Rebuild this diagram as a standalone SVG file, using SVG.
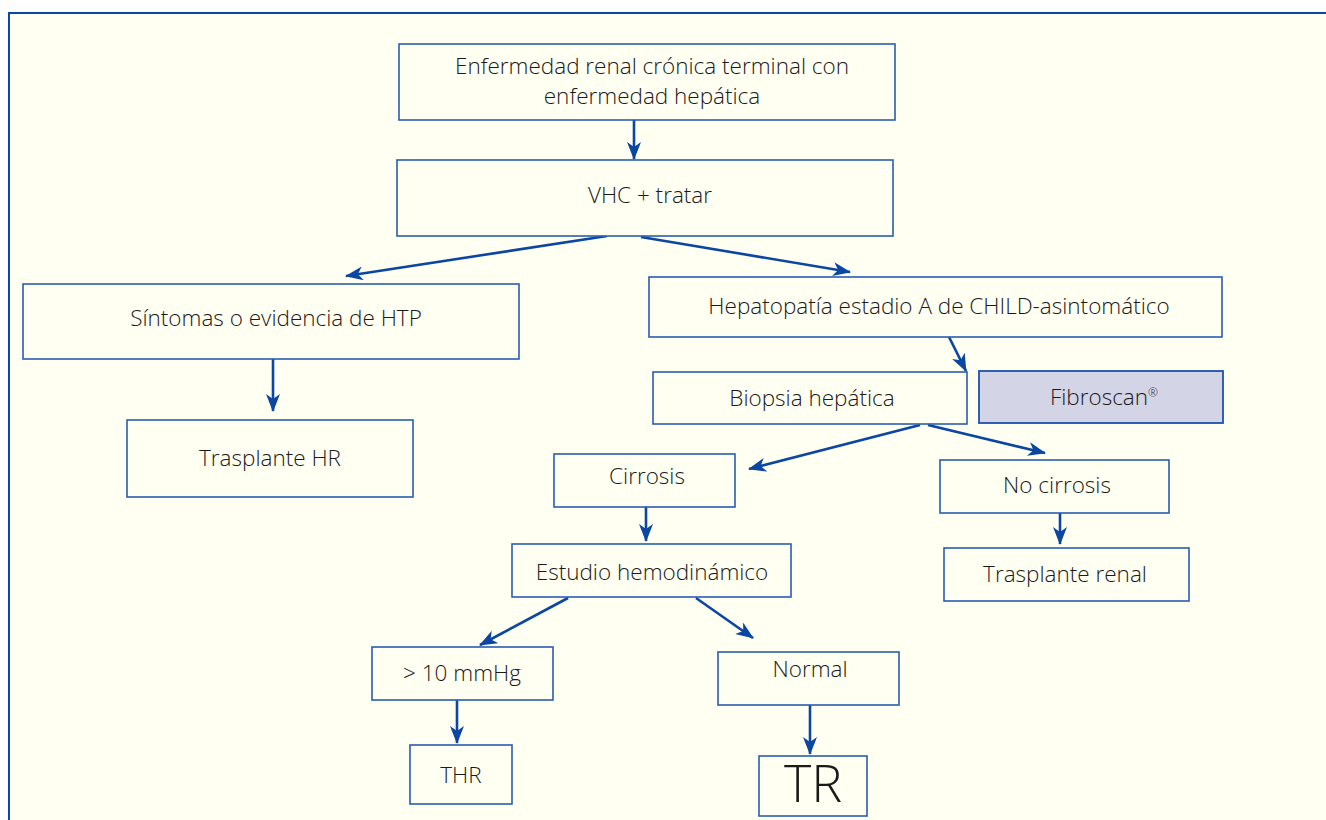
<svg xmlns="http://www.w3.org/2000/svg" width="1326" height="820" viewBox="0 0 1326 820">
<style>
.box{fill:#fffff2;stroke:#2a5db3;stroke-width:1.6}
.fib{fill:#d3d4e6;stroke:#1d50ad;stroke-width:1.8}
.t{font-family:"Open Sans","Noto Sans",sans-serif;font-size:22.5px;font-weight:300;fill:#1a1a1a;text-anchor:middle}
.big{font-size:52px}
.c{fill:none;stroke:#0b46a3;stroke-width:2.6}
</style>
<defs>
<marker id="ah" viewBox="0 0 18 14" refX="17" refY="7" markerWidth="18" markerHeight="14" markerUnits="userSpaceOnUse" orient="auto">
<path d="M0,0 L18,7 L0,14 L5,7 Z" fill="#0b46a3"/>
</marker>
</defs>
<rect x="0" y="0" width="1326" height="820" fill="#ffffff"/>
<rect x="9" y="13" width="1330" height="820" fill="#fffff2" stroke="#0b46a8" stroke-width="2"/>

<g id="connectors">
<line class="c" x1="634" y1="120" x2="634" y2="159" marker-end="url(#ah)"/>
<line class="c" x1="607" y1="236" x2="346" y2="276" marker-end="url(#ah)"/>
<line class="c" x1="641" y1="237" x2="850" y2="272" marker-end="url(#ah)"/>
<line class="c" x1="273" y1="359" x2="273" y2="411" marker-end="url(#ah)"/>
<line class="c" x1="949" y1="337" x2="966" y2="371" marker-end="url(#ah)"/>
<line class="c" x1="920" y1="425" x2="749" y2="469" marker-end="url(#ah)"/>
<line class="c" x1="928" y1="425" x2="1045" y2="453" marker-end="url(#ah)"/>
<line class="c" x1="646" y1="507" x2="646" y2="541" marker-end="url(#ah)"/>
<line class="c" x1="1060" y1="513" x2="1060" y2="544" marker-end="url(#ah)"/>
<line class="c" x1="568" y1="598" x2="480" y2="645" marker-end="url(#ah)"/>
<line class="c" x1="696" y1="598" x2="753" y2="638" marker-end="url(#ah)"/>
<line class="c" x1="457" y1="700" x2="457" y2="743" marker-end="url(#ah)"/>
<line class="c" x1="810" y1="705" x2="810" y2="754" marker-end="url(#ah)"/>
</g>

<g id="n1"><rect class="box" x="399" y="44" width="496" height="76"/>
<text class="t" x="652" y="74">Enfermedad renal crónica terminal con</text>
<text class="t" x="652" y="104">enfermedad hepática</text></g>
<g id="n2"><rect class="box" x="397" y="160" width="496" height="76"/>
<text class="t" x="650" y="203">VHC + tratar</text></g>
<g id="n3"><rect class="box" x="23" y="284" width="496" height="75"/>
<text class="t" x="276" y="326">Síntomas o evidencia de HTP</text></g>
<g id="n4"><rect class="box" x="127" y="420" width="286" height="77"/>
<text class="t" x="270" y="466">Trasplante HR</text></g>
<g id="n5"><rect class="box" x="649" y="277" width="573" height="60"/>
<text class="t" x="939" y="314">Hepatopatía estadio A de CHILD-asintomático</text></g>
<g id="n6"><rect class="box" x="653" y="372" width="314" height="52"/>
<text class="t" x="812" y="406">Biopsia hepática</text></g>
<g id="n7"><rect class="fib" x="979" y="371" width="244" height="52"/>
<text class="t" x="1104" y="405">Fibroscan<tspan style="font-size:12px" dy="-8">®</tspan></text></g>
<g id="n8"><rect class="box" x="554" y="454" width="181" height="53"/>
<text class="t" x="647" y="484">Cirrosis</text></g>
<g id="n9"><rect class="box" x="940" y="460" width="229" height="53"/>
<text class="t" x="1057" y="493">No cirrosis</text></g>
<g id="n10"><rect class="box" x="512" y="544" width="279" height="53"/>
<text class="t" x="652" y="580">Estudio hemodinámico</text></g>
<g id="n11"><rect class="box" x="944" y="548" width="245" height="53"/>
<text class="t" x="1065" y="582">Trasplante renal</text></g>
<g id="n12"><rect class="box" x="372" y="647" width="181" height="53"/>
<text class="t" x="462" y="681">&gt; 10 mmHg</text></g>
<g id="n13"><rect class="box" x="718" y="652" width="181" height="53"/>
<text class="t" x="810" y="677">Normal</text></g>
<g id="n14"><rect class="box" x="410" y="745" width="102" height="59"/>
<text class="t" x="461" y="783">THR</text></g>
<g id="n15"><rect class="box" x="759" y="756" width="108" height="60"/>
<text class="t big" x="813" y="802">TR</text></g>
</svg>
